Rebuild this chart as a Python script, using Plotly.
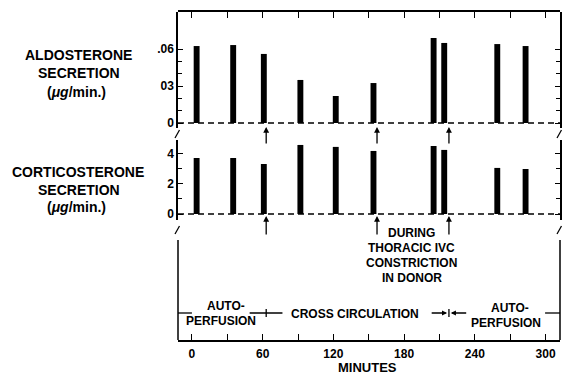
import plotly.graph_objects as go

# ---------------- data ----------------
times = [4, 35, 61, 92, 122, 154, 205, 214, 259, 283]          # minutes
aldosterone = [0.0624, 0.0632, 0.056, 0.0349, 0.0219, 0.0324, 0.0689, 0.0649, 0.064, 0.0624]
corticosterone = [3.73, 3.73, 3.33, 4.6, 4.47, 4.2, 4.53, 4.27, 3.07, 3.0]

x_tickvals = list(range(0, 301, 30))
x_ticktext = ["0", "", "60", "", "120", "", "180", "", "240", "", "300"]
aldo_tickvals = [0, 0.03, 0.06]
aldo_ticktext = ["0", "03", ".06"]
aldo_minor = [0.01, 0.02, 0.04, 0.05]
cort_tickvals = [0, 2, 4]
cort_ticktext = ["0", "2", "4"]
cort_minor = [1, 3]

event_times = [63, 157, 218]          # arrows at the zero lines
phase_bounds = [63, 218]              # auto-perfusion | cross circulation | auto-perfusion
ivc_text = ["DURING", "THORACIC IVC", "CONSTRICTION", "IN DONOR"]

# ---------------- layout helpers ----------------
W, H = 566, 376
L, R, T, B = 178, 562, 12, 340
XR = [-11.8, 312.2]
FONT = "Liberation Sans"


def px(x):
    return (x - L) / (R - L)


def py(y):
    return (B - y) / (B - T)


def tx(x):  # pixel -> minutes
    return XR[0] + (x - L) / (R - L) * (XR[1] - XR[0])


fig = go.Figure()
fig.add_trace(go.Scatter(x=[], y=[], xaxis="x", yaxis="y3", showlegend=False, hoverinfo="skip"))
fig.add_trace(go.Bar(x=times, y=aldosterone, xaxis="x", yaxis="y", width=5,
                     marker=dict(color="black", line=dict(width=0)), showlegend=False))
fig.add_trace(go.Bar(x=times, y=corticosterone, xaxis="x", yaxis="y2", width=5,
                     marker=dict(color="black", line=dict(width=0)), showlegend=False))

tickfont = dict(family=FONT, size=12, color="black", weight="bold")

shapes = []
# dashed zero lines
for yr in ["y", "y2"]:
    shapes.append(dict(type="line", xref="x", yref=yr, x0=XR[0], x1=XR[1], y0=0, y1=0,
                       line=dict(color="black", width=1.6, dash="6px,4px")))
# lower frame part
for xp in [0, 1]:
    shapes.append(dict(type="line", xref="paper", yref="paper", x0=xp, x1=xp,
                       y0=0, y1=py(240), line=dict(color="black", width=1.5)))
# axis break strokes
for xc in [L, R]:
    for yc in [134, 230]:
        shapes.append(dict(type="line", xref="paper", yref="paper",
                           x0=px(xc - 3), x1=px(xc + 1.5), y0=py(yc + 4), y1=py(yc - 4),
                           line=dict(color="black", width=1.3)))
# phase band
band_y = py(313)
segments = [(XR[0], tx(192)), (tx(250), tx(283)), (tx(547), XR[1])]
for a, b in segments:
    shapes.append(dict(type="line", xref="x", yref="paper", x0=a, x1=b, y0=band_y, y1=band_y,
                       line=dict(color="black", width=1.3)))
for pb in phase_bounds:
    shapes.append(dict(type="line", xref="x", yref="paper", x0=pb, x1=pb,
                       y0=py(317), y1=py(309), line=dict(color="black", width=1.3)))

annotations = []
# arrows pointing to zero lines
for et in event_times:
    annotations.append(dict(x=et, y=0, xref="x", yref="y", ax=0, ay=22, text="",
                            showarrow=True, arrowhead=2, arrowsize=0.9, arrowwidth=1.3,
                            standoff=4, arrowcolor="black"))
    annotations.append(dict(x=et, y=0, xref="x", yref="y2", ax=0, ay=22, text="",
                            showarrow=True, arrowhead=2, arrowsize=0.9, arrowwidth=1.3,
                            standoff=2, arrowcolor="black"))
# band arrows around the second boundary
annotations.append(dict(x=phase_bounds[1] - 1.5, y=band_y, xref="x", yref="paper", ax=-17, ay=0,
                        text="", showarrow=True, arrowhead=2, arrowsize=0.8, arrowwidth=1.3,
                        arrowcolor="black"))
annotations.append(dict(x=phase_bounds[1] + 1.5, y=band_y, xref="x", yref="paper", ax=17, ay=0,
                        text="", showarrow=True, arrowhead=2, arrowsize=0.8, arrowwidth=1.3,
                        arrowcolor="black"))


def label(text, x, y, size=12, xref="paper"):
    annotations.append(dict(text=text, x=x, y=y, xref=xref, yref="paper", showarrow=False,
                            xanchor="center", yanchor="middle",
                            font=dict(family=FONT, size=size, color="black", weight="bold")))


# left titles
label("ALDOSTERONE", px(78), py(55), 14)
label("SECRETION", px(78), py(73), 14)
label("(<i>μg</i>/min.)", px(76), py(92), 14)
label("CORTICOSTERONE", px(77), py(172), 14)
label("SECRETION", px(78), py(190), 14)
label("(<i>μg</i>/min.)", px(76), py(207), 14)
# IVC note
for i, t in enumerate(ivc_text):
    label(t, tx(413), py(233 + 15 * i), 12, xref="x")
# phases
label("AUTO-", tx(226), py(306), 12, xref="x")
label("PERFUSION", tx(221), py(321), 12, xref="x")
label("CROSS CIRCULATION", tx(356), py(314), 12, xref="x")
label("AUTO-", tx(512), py(308), 12, xref="x")
label("PERFUSION", tx(508), py(323), 12, xref="x")
# x title
label("MINUTES", px(368), py(367), 13)

fig.update_layout(
    width=W, height=H,
    margin=dict(l=L, r=W - R, t=T, b=H - B, pad=0),
    paper_bgcolor="white", plot_bgcolor="rgba(0,0,0,0)",
    barmode="overlay",
    xaxis=dict(range=XR, anchor="y3", showline=True, linecolor="black", linewidth=1.5,
               mirror="ticks", ticks="inside", ticklen=6, tickwidth=1.3, tickcolor="black",
               tickmode="array", tickvals=x_tickvals, ticktext=x_ticktext,
               tickfont=tickfont, showgrid=False, zeroline=False, ticklabelstandoff=2),
    yaxis=dict(domain=[py(128), 1], range=[-0.00405, 0.09], anchor="x",
               showline=True, linecolor="black", linewidth=1.5, mirror="ticks",
               ticks="inside", ticklen=5, tickwidth=1.3, tickcolor="black",
               tickmode="array", tickvals=aldo_tickvals, ticktext=aldo_ticktext,
               minor=dict(tickmode="array", tickvals=aldo_minor, ticks="inside", ticklen=4,
                          tickwidth=1.2, tickcolor="black", showgrid=False),
               tickfont=tickfont, showgrid=False, zeroline=False),
    yaxis2=dict(domain=[py(220), py(140)], range=[-0.4, 4.93], anchor="x",
                showline=True, linecolor="black", linewidth=1.5, mirror="ticks",
                ticks="inside", ticklen=5, tickwidth=1.3, tickcolor="black",
                tickmode="array", tickvals=cort_tickvals, ticktext=cort_ticktext,
                minor=dict(tickmode="array", tickvals=cort_minor, ticks="inside", ticklen=4,
                           tickwidth=1.2, tickcolor="black", showgrid=False),
                tickfont=tickfont, showgrid=False, zeroline=False),
    yaxis3=dict(domain=[0, 1], range=[0, 1], anchor="x", visible=False),
    shapes=shapes,
    annotations=annotations,
)

fig.write_html("out.html", config={"displayModeBar": False},
               post_script="document.body.style.margin='0';")
